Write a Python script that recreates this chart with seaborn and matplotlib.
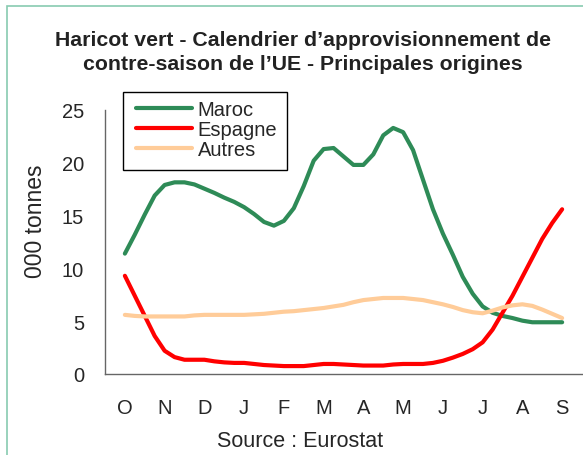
import matplotlib
matplotlib.use('Agg')
import matplotlib.pyplot as plt
from matplotlib.patches import Rectangle
from matplotlib.ticker import FixedLocator
import numpy as np
import pandas as pd
import seaborn as sns

# data (thousand tonnes), read at quarter-month steps from October to September
months = ['O', 'N', 'D', 'J', 'F', 'M', 'A', 'M', 'J', 'J', 'A', 'S']
maroc = [11.4, 13.2, 15.1, 16.9, 17.9, 18.15, 18.15, 17.95, 17.55, 17.15, 16.7, 16.3,
         15.8, 15.15, 14.4, 14.05, 14.5, 15.7, 17.8, 20.2, 21.3, 21.4, 20.6, 19.8,
         19.8, 20.8, 22.6, 23.3, 22.9, 21.2, 18.4, 15.6, 13.3, 11.3, 9.2, 7.6,
         6.4, 5.8, 5.5, 5.3, 5.05, 4.9, 4.9, 4.9, 4.9]
espagne = [9.3, 7.4, 5.5, 3.6, 2.2, 1.6, 1.35, 1.35, 1.35, 1.2, 1.1, 1.05,
           1.05, 0.95, 0.85, 0.8, 0.75, 0.75, 0.75, 0.85, 0.95, 0.95, 0.9, 0.85,
           0.8, 0.8, 0.8, 0.9, 0.95, 0.95, 0.95, 1.05, 1.25, 1.55, 1.9, 2.35,
           3.0, 4.2, 5.8, 7.4, 9.2, 11.0, 12.8, 14.3, 15.6]
autres = [5.6, 5.5, 5.45, 5.45, 5.45, 5.45, 5.45, 5.55, 5.6, 5.6, 5.6, 5.6,
          5.6, 5.65, 5.7, 5.8, 5.9, 5.95, 6.05, 6.15, 6.25, 6.4, 6.55, 6.8,
          7.0, 7.1, 7.2, 7.2, 7.2, 7.1, 7.0, 6.8, 6.6, 6.35, 6.05, 5.85,
          5.75, 6.0, 6.3, 6.5, 6.6, 6.45, 6.1, 5.7, 5.3]
series = {'Maroc': maroc, 'Espagne': espagne, 'Autres': autres}
colors = {'Maroc': '#2e8b57', 'Espagne': '#ff0000', 'Autres': '#ffcc99'}

t = np.arange(len(maroc)) / 4.0
df = pd.concat([pd.DataFrame({'t': t, 'val': v, 'origine': k}) for k, v in series.items()])

sns.set_style('white')
plt.rcParams['font.family'] = ['Liberation Sans', 'DejaVu Sans']

W, H = 583, 456
fig = plt.figure(figsize=(W / 100, H / 100), dpi=100)
ax = fig.add_axes([105 / W, 1 - 375 / H, 477 / W, 264 / H])

sns.lineplot(data=df, x='t', y='val', hue='origine', palette=colors,
             linewidth=3, ax=ax, legend=False)

ax.set_xlim(-0.5, 11.5)
ax.set_ylim(0, 25)
ax.set_xlabel('')
ax.set_ylabel('')
ax.set_yticks([0, 5, 10, 15, 20, 25])
ax.set_xticks(range(12))
ax.set_xticklabels(months)
ax.xaxis.set_minor_locator(FixedLocator(np.arange(-0.5, 12, 1)))
ax.tick_params(axis='x', which='major', length=0, pad=17, labelsize=14.5)
ax.tick_params(axis='x', which='minor', length=6, width=1, color='#666666', direction='out')
ax.tick_params(axis='y', length=6, width=1, color='#666666', pad=9, labelsize=14.5, direction='out')
for s in ['top', 'right']:
    ax.spines[s].set_visible(False)
for s in ['left', 'bottom']:
    ax.spines[s].set_color('#666666')
    ax.spines[s].set_linewidth(1)

# legend
handles = [plt.Line2D([], [], color=colors[k], lw=3) for k in series]
leg = ax.legend(handles, list(series), loc='upper left',
                bbox_to_anchor=(126 / W, 1 - 91 / H), bbox_transform=fig.transFigure,
                frameon=False, fontsize=14.5, handlelength=2.8, handletextpad=0.25,
                labelspacing=0.05, borderpad=0)
fig.patches.append(Rectangle((123 / W, 1 - 171 / H), 164 / W, 78 / H,
                             transform=fig.transFigure, fill=False,
                             edgecolor='black', lw=1, zorder=5))

# frame around the picture
fig.patches.append(Rectangle((7 / W, -0.1), 1.2, 1 - 7 / H + 0.1,
                             transform=fig.transFigure, fill=False,
                             edgecolor='#88cbb0', lw=1.2))

fig.text(303 / W, 1 - 41 / H, 'Haricot vert - Calendrier d\u2019approvisionnement de',
         ha='center', va='center', fontsize=15.3, fontweight='bold', color='#222222')
fig.text(303 / W, 1 - 65 / H, 'contre-saison de l\u2019UE - Principales origines',
         ha='center', va='center', fontsize=15.3, fontweight='bold', color='#222222')
fig.text(36 / W, 1 - 221 / H, '000 tonnes', rotation=90, ha='center', va='center', fontsize=16.5)
fig.text(300 / W, 1 - 442 / H, 'Source : Eurostat', ha='center', va='center', fontsize=15.5)

fig.savefig('out.png', dpi=100)
